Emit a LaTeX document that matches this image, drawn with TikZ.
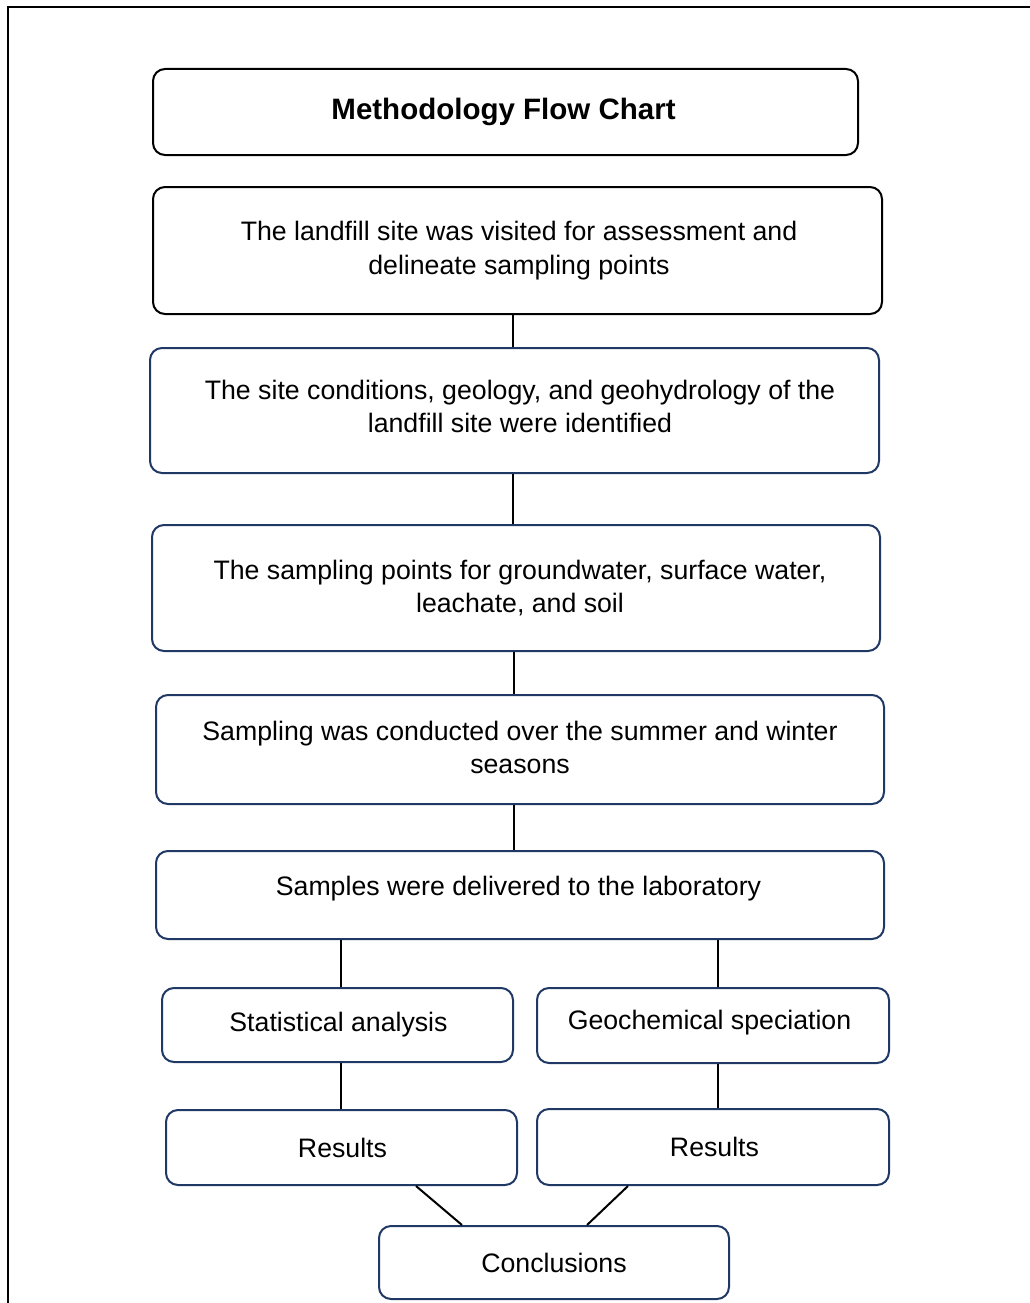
\documentclass[tikz,border=0pt]{standalone}
\usepackage{fontspec}
\setmainfont{Liberation Sans}
\definecolor{navy}{RGB}{31,56,100}
\begin{document}
\begin{tikzpicture}[x=1pt,y=-1pt,
  box/.style={draw=navy, line width=2pt, rounded corners=12pt, align=center, inner sep=0pt, font=\fontsize{26.7}{33.5}\selectfont},
  blk/.style={box, draw=black},
  con/.style={line width=2pt, draw=black}]
\useasboundingbox (0,0) rectangle (1030,1303);
\draw[line width=2.5pt] (8,1310) -- (8,7) -- (1040,7);
\node[blk, minimum width=705, minimum height=86, font=\fontsize{29.5}{33}\selectfont\bfseries] (title) at (505.5,112) {Methodology Flow Chart\hspace*{4pt}};
\node[blk, minimum width=729, minimum height=127] (b1) at (517.5,250.5) {\hspace*{3pt}The landfill site was visited for assessment and\\\hspace*{3pt}delineate sampling points};
\node[box, minimum width=729, minimum height=125, text depth=8pt] (b2) at (514.5,410.5) {\hspace*{11pt}The site conditions, geology, and geohydrology of the\\\hspace*{11pt}landfill site were identified};
\node[box, minimum width=728, minimum height=126] (b3) at (516,588) {\hspace*{8pt}The sampling points for groundwater, surface water,\\\hspace*{8pt}leachate, and soil};
\node[box, minimum width=728, minimum height=109, text depth=4pt] (b4) at (520,749.5) {Sampling was conducted over the summer and winter\\seasons};
\node[box, minimum width=728, minimum height=88, text depth=18pt] (b5) at (520,895) {Samples were delivered to the laboratory\hspace*{3pt}};
\node[box, minimum width=351, minimum height=74] (stat) at (337.5,1025) {\hspace*{2pt}Statistical analysis};
\node[box, minimum width=352, minimum height=75, text depth=12pt] (geo) at (713,1025.5) {Geochemical speciation\hspace*{7pt}};
\node[box, minimum width=351, minimum height=75] (res1) at (341.5,1147.5) {\hspace*{2pt}Results};
\node[box, minimum width=352, minimum height=76] (res2) at (713,1147) {\hspace*{3pt}Results};
\node[box, minimum width=350, minimum height=73] (concl) at (554,1262.5) {Conclusions};
\draw[con] (b1.south -| 513,0) -- (b2.north -| 513,0);
\draw[con] (b2.south -| 513,0) -- (b3.north -| 513,0);
\draw[con] (b3.south -| 514,0) -- (b4.north -| 514,0);
\draw[con] (b4.south -| 514,0) -- (b5.north -| 514,0);
\draw[con] (b5.south -| 341,0) -- (stat.north -| 341,0);
\draw[con] (b5.south -| 718,0) -- (geo.north -| 718,0);
\draw[con] (stat.south -| 341,0) -- (res1.north -| 341,0);
\draw[con] (geo.south -| 718,0) -- (res2.north -| 718,0);
\draw[con] (res1.south -| 416,0) -- (concl.north -| 462,0);
\draw[con] (res2.south -| 628,0) -- (concl.north -| 587,0);
\end{tikzpicture}
\end{document}
